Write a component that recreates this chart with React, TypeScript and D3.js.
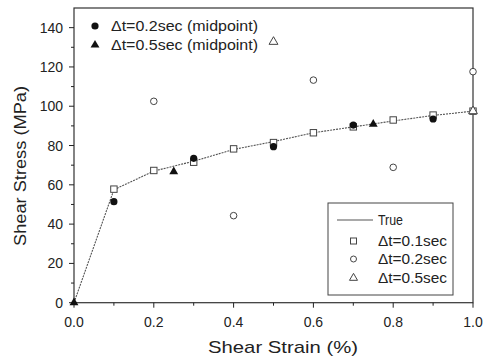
import React from "react";
import * as d3 from "d3";

const trueX = [0, 0.1, 0.2, 0.3, 0.4, 0.5, 0.6, 0.7, 0.8, 0.9, 1.0];
const trueY = [0, 57.5, 67, 72, 78, 82, 86.5, 89.5, 92.5, 95.3, 97.5];

const dt01X = [0.1, 0.2, 0.3, 0.4, 0.5, 0.6, 0.7, 0.8, 0.9, 1.0];
const dt01Y = [57.8, 67.3, 71.5, 78.3, 81.5, 86.5, 89.5, 93, 95.5, 97.5];

const dt02X = [0.2, 0.4, 0.6, 0.8, 1.0];
const dt02Y = [102.5, 44.3, 113.3, 68.9, 117.6];

const dt05X = [0.5, 1.0];
const dt05Y = [132.8, 97.5];

const mid02X = [0.1, 0.3, 0.5, 0.7, 0.9];
const mid02Y = [51.4, 73.5, 79.4, 90.4, 93.5];

const mid05X = [0, 0.25, 0.75];
const mid05Y = [0, 66.7, 90.9];

const xTicks = [0, 0.2, 0.4, 0.6, 0.8, 1.0];
const yTicks = [0, 20, 40, 60, 80, 100, 120, 140];

const W = 487, H = 360;
const L = 74, R = 473, T = 8, B = 302.7;
const FONT = "'Liberation Sans', Arial, sans-serif";

export default function App() {
  const x = d3.scaleLinear().domain([0, 1]).range([L, R]);
  const y = d3.scaleLinear().domain([0, 150]).range([B, T]);
  const line = d3.line<number>().x((_, i) => x(trueX[i])).y((d) => y(d)).curve(d3.curveLinear);
  const tri = d3.symbol().type(d3.symbolTriangle).size(34);
  const triSmall = d3.symbol().type(d3.symbolTriangle).size(28);
  const minorX = d3.range(0.1, 1.0, 0.2);
  const minorY = d3.range(10, 150, 20);

  return (
    <svg width={W} height={H} style={{ position: "absolute", left: 0, top: 0, background: "#fff" }}>
      <rect x={0} y={0} width={W} height={H} fill="#fff" />
      {/* frame */}
      <rect x={L} y={T} width={R - L} height={B - T} fill="none" stroke="#333" strokeWidth={1.2} />
      {/* x ticks */}
      {xTicks.map((t) => (
        <g key={"xt" + t}>
          <line x1={x(t)} x2={x(t)} y1={B} y2={B + 5} stroke="#222" strokeWidth={1} />
          <text x={x(t)} y={B + 24} textAnchor="middle" fontFamily={FONT} fontSize={14} fill="#222">
            {t.toFixed(1)}
          </text>
        </g>
      ))}
      {minorX.map((t) => (
        <line key={"xm" + t} x1={x(t)} x2={x(t)} y1={B} y2={B + 3} stroke="#222" strokeWidth={1} />
      ))}
      {/* y ticks */}
      {yTicks.map((t) => (
        <g key={"yt" + t}>
          <line x1={L - 5} x2={L} y1={y(t)} y2={y(t)} stroke="#222" strokeWidth={1} />
          <text x={L - 11} y={y(t) + 5} textAnchor="end" fontFamily={FONT} fontSize={14} fill="#222">
            {t}
          </text>
        </g>
      ))}
      {minorY.map((t) => (
        <line key={"ym" + t} x1={L - 3} x2={L} y1={y(t)} y2={y(t)} stroke="#222" strokeWidth={1} />
      ))}
      {/* axis titles */}
      <text x={283} y={353} textAnchor="middle" fontFamily={FONT} fontSize={17} fill="#222"
        textLength={150} lengthAdjust="spacingAndGlyphs">
        Shear Strain (%)
      </text>
      <text transform={`translate(26,166) rotate(-90)`} textAnchor="middle" fontFamily={FONT} fontSize={17} fill="#222"
        textLength={160} lengthAdjust="spacingAndGlyphs">
        Shear Stress (MPa)
      </text>
      {/* true line */}
      <path d={line(trueY) || ""} fill="none" stroke="#555" strokeWidth={1.1} strokeDasharray="2,1" />
      {/* open squares */}
      {dt01X.map((v, i) => (
        <rect key={"s" + i} x={x(v) - 3.2} y={y(dt01Y[i]) - 3.2} width={6.4} height={6.4} fill="#fff" stroke="#444" strokeWidth={1} />
      ))}
      {/* open circles */}
      {dt02X.map((v, i) => (
        <circle key={"c" + i} cx={x(v)} cy={y(dt02Y[i])} r={3.3} fill="#fff" stroke="#444" strokeWidth={1} />
      ))}
      {/* open triangles */}
      {dt05X.map((v, i) => (
        <path key={"t" + i} d={tri() || ""} transform={`translate(${x(v)},${y(dt05Y[i])})`} fill="#fff" stroke="#444" strokeWidth={1} />
      ))}
      {/* filled circles */}
      {mid02X.map((v, i) => (
        <circle key={"fc" + i} cx={x(v)} cy={y(mid02Y[i])} r={3.6} fill="#111" />
      ))}
      {/* filled triangles */}
      {mid05X.map((v, i) => (
        <path key={"ft" + i} d={tri() || ""} transform={`translate(${x(v)},${y(mid05Y[i])})`} fill="#111" />
      ))}
      {/* top-left legend */}
      <circle cx={95} cy={26} r={3.6} fill="#111" />
      <text x={111} y={31} fontFamily={FONT} fontSize={14} fill="#222" textLength={147} lengthAdjust="spacingAndGlyphs">Δt=0.2sec (midpoint)</text>
      <path d={tri() || ""} transform="translate(95,45)" fill="#111" />
      <text x={111} y={50} fontFamily={FONT} fontSize={14} fill="#222" textLength={147} lengthAdjust="spacingAndGlyphs">Δt=0.5sec (midpoint)</text>
      {/* bottom-right legend */}
      <rect x={328} y={203} width={125} height={92} fill="#fff" stroke="#444" strokeWidth={1} />
      <line x1={337} x2={373} y1={220} y2={220} stroke="#555" strokeWidth={1.1} />
      <text x={378} y={225} fontFamily={FONT} fontSize={14} fill="#222" textLength={25} lengthAdjust="spacingAndGlyphs">True</text>
      <rect x={350.5} y={238} width={6} height={6} fill="#fff" stroke="#444" strokeWidth={1} />
      <text x={378} y={246} fontFamily={FONT} fontSize={14} fill="#222" textLength={69} lengthAdjust="spacingAndGlyphs">Δt=0.1sec</text>
      <circle cx={353.5} cy={259} r={3} fill="#fff" stroke="#444" strokeWidth={1} />
      <text x={378} y={264} fontFamily={FONT} fontSize={14} fill="#222" textLength={69} lengthAdjust="spacingAndGlyphs">Δt=0.2sec</text>
      <path d={triSmall() || ""} transform="translate(353.5,278)" fill="#fff" stroke="#444" strokeWidth={1} />
      <text x={378} y={283} fontFamily={FONT} fontSize={14} fill="#222" textLength={69} lengthAdjust="spacingAndGlyphs">Δt=0.5sec</text>
    </svg>
  );
}
